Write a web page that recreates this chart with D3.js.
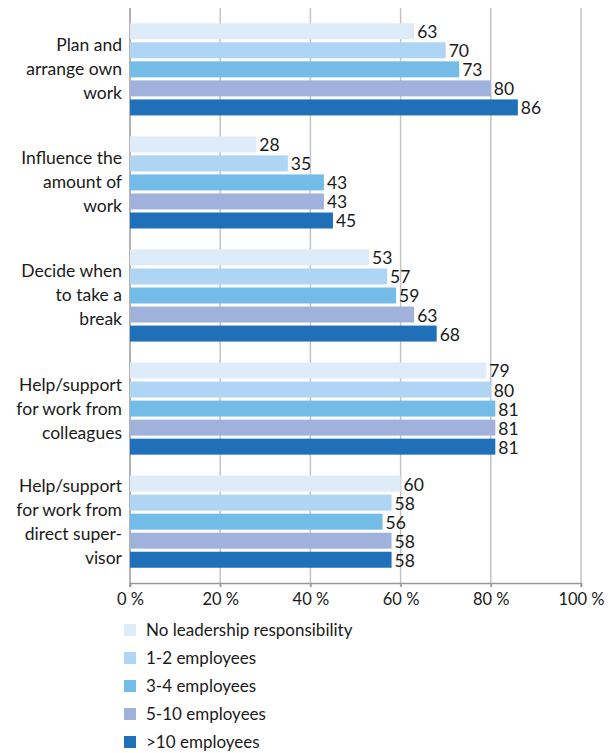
<!DOCTYPE html>
<html>
<head>
<meta charset="utf-8">
<script src="https://cdn.jsdelivr.net/npm/d3@7"></script>
<style>
  body { margin: 0; background: #fff; }
  text { font-family: Lato, "Open Sans", sans-serif; fill: #1a1a1a; }
</style>
</head>
<body>
<svg id="chart" width="608" height="753"></svg>
<script>
// categories (label lines) and series
const categories = [
    ['Plan and', 'arrange own', 'work'],
    ['Influence the', 'amount of', 'work'],
    ['Decide when', 'to take a', 'break'],
    ['Help/support', 'for work from', 'colleagues'],
    ['Help/support', 'for work from', 'direct super-', 'visor']
];
const seriesNames = ['No leadership responsibility', '1-2 employees', '3-4 employees', '5-10 employees', '>10 employees'];
const seriesColors = ['#deebf8', '#aed5f3', '#74bce8', '#a0b2dc', '#1f70b8'];
const noLeadership = [63, 28, 53, 79, 60];
const emp1to2 = [70, 35, 57, 80, 58];
const emp3to4 = [73, 43, 59, 81, 56];
const emp5to10 = [80, 43, 63, 81, 58];
const empOver10 = [86, 45, 68, 81, 58];
const tickValues = [0, 20, 40, 60, 80, 100];

const series = [noLeadership, emp1to2, emp3to4, emp5to10, empOver10];

const svg = d3.select('#chart');
const margin = { left: 130, right: 27, top: 8, bottom: 170 };
const width = 608 - margin.left - margin.right;
const height = 753 - margin.top - margin.bottom;

const g = svg.append('g').attr('transform', `translate(${margin.left},${margin.top})`);

const x = d3.scaleLinear().domain([0, 100]).range([0, width]);
const y = d3.scaleBand()
    .domain(d3.range(categories.length))
    .range([0, height])
    .paddingInner(0.185)
    .paddingOuter(0.135);
const ySub = d3.scaleBand()
    .domain(d3.range(series.length))
    .range([0, y.bandwidth()])
    .paddingInner(0.16);

// gridlines
g.append('g')
    .selectAll('line')
    .data(tickValues)
    .join('line')
    .attr('x1', d => x(d))
    .attr('x2', d => x(d))
    .attr('y1', 0)
    .attr('y2', height + 4)
    .attr('stroke', d => d === 0 ? '#9a9a9a' : '#c4c4c4')
    .attr('stroke-width', 1.5);

// x axis
const xAxis = g.append('g')
    .attr('transform', `translate(0,${height})`)
    .call(d3.axisBottom(x).tickValues(tickValues).tickFormat(d => d + ' %').tickSize(4).tickPadding(6));
xAxis.select('.domain').attr('stroke', '#9a9a9a').attr('stroke-width', 1.5);
xAxis.selectAll('.tick line').attr('stroke', '#9a9a9a').attr('stroke-width', 1.5);
xAxis.selectAll('text')
    .style('font-family', 'Lato, "Open Sans", sans-serif')
    .style('font-size', '16.5px')
    .attr('fill', '#1a1a1a');

// bars
const groups = g.append('g')
    .selectAll('g')
    .data(categories)
    .join('g')
    .attr('transform', (d, i) => `translate(0,${y(i)})`);

groups.each(function(cat, ci) {
    const grp = d3.select(this);
    const vals = series.map(s => s[ci]);
    grp.selectAll('rect')
        .data(vals)
        .join('rect')
        .attr('x', 0)
        .attr('y', (d, si) => ySub(si))
        .attr('width', d => x(d))
        .attr('height', ySub.bandwidth())
        .attr('fill', (d, si) => seriesColors[si]);
    grp.selectAll('text.val')
        .data(vals)
        .join('text')
        .attr('class', 'val')
        .attr('x', d => x(d) + 3)
        .attr('y', (d, si) => ySub(si) + ySub.bandwidth() / 2 + 7)
        .style('font-size', '17.5px')
        .text(d => d);

    // category label
    const lineH = 24;
    const n = cat.length;
    const mid = y.bandwidth() / 2;
    grp.append('text')
        .attr('text-anchor', 'end')
        .style('font-size', '17.5px')
        .selectAll('tspan')
        .data(cat)
        .join('tspan')
        .attr('x', -8)
        .attr('y', (d, li) => mid + (li - (n - 1) / 2) * lineH + 6)
        .text(d => d);
});

// legend
const legend = svg.append('g').attr('transform', 'translate(124,630)');
const li = legend.selectAll('g')
    .data(seriesNames)
    .join('g')
    .attr('transform', (d, i) => `translate(0,${i * 28})`);
li.append('rect')
    .attr('x', 0)
    .attr('y', -6)
    .attr('width', 12)
    .attr('height', 12)
    .attr('fill', (d, i) => seriesColors[i]);
li.append('text')
    .attr('x', 22)
    .attr('y', 6)
    .style('font-size', '17px')
    .text(d => d);
</script>
</body>
</html>
